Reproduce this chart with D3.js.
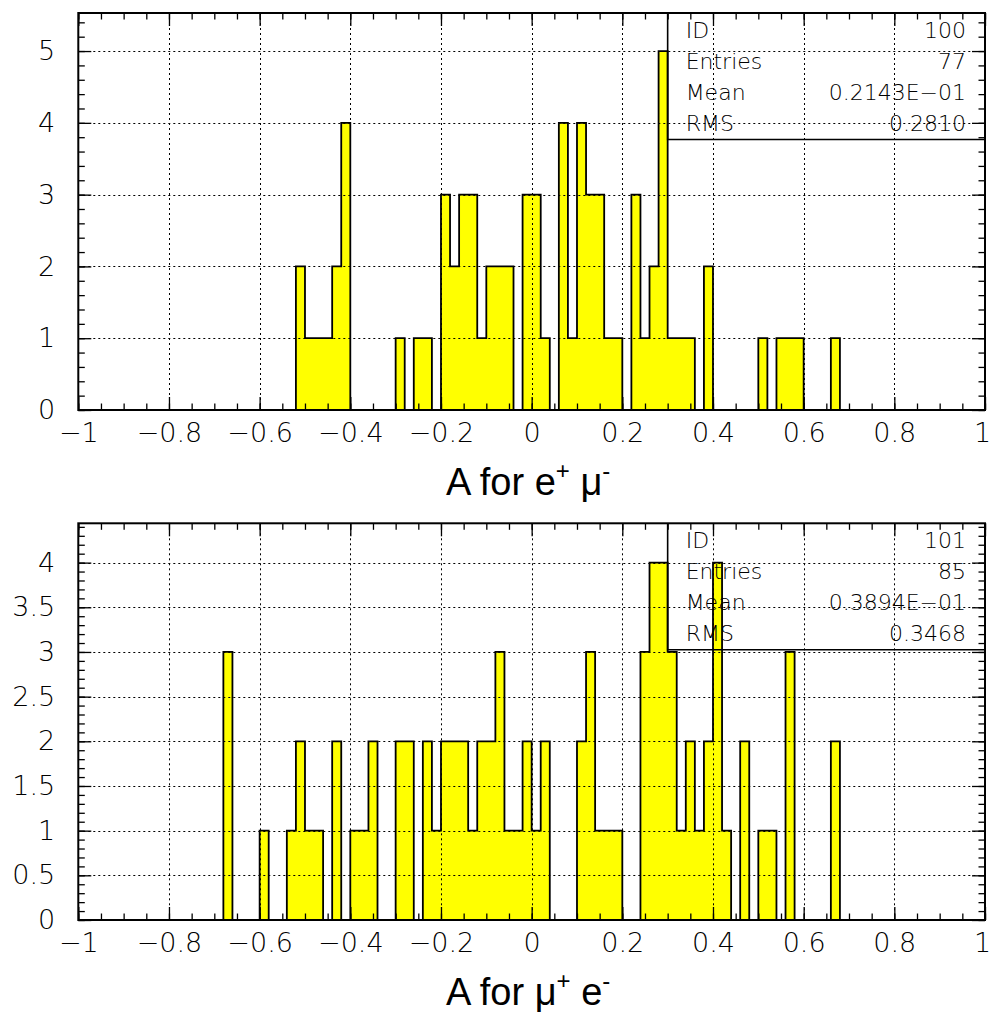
<!DOCTYPE html>
<html>
<head>
<meta charset="utf-8">
<script src="https://cdn.jsdelivr.net/npm/d3@7"></script>
<style>
  html, body { margin: 0; padding: 0; background: #fff; }
  svg { display: block; }
  .tick-label text, .stats text { font-family: "DejaVu Sans", sans-serif; font-weight: 200; fill: #000; }
  .title { font-family: "Liberation Sans", Arial, sans-serif; fill: #000; }
</style>
</head>
<body>
<svg id="chart" width="991" height="1014"></svg>
<script>
// Histogram 100: A for e+ mu-, 100 bins of width 0.02 on [-1, 1]
const countsEMu = [
  0,0,0,0,0,0,0,0,0,0,
  0,0,0,0,0,0,0,0,0,0,
  0,0,0,0,2,1,1,1,2,4,
  0,0,0,0,0,1,0,1,1,0,
  3,2,3,3,1,2,2,2,0,3,
  3,1,0,4,1,4,3,3,1,1,
  0,3,1,2,5,1,1,1,0,2,
  0,0,0,0,0,1,0,1,1,1,
  0,0,0,1,0,0,0,0,0,0,
  0,0,0,0,0,0,0,0,0,0
];
// Histogram 101: A for mu+ e-
const countsMuE = [
  0,0,0,0,0,0,0,0,0,0,
  0,0,0,0,0,0,3,0,0,0,
  1,0,0,1,2,1,1,0,2,0,
  1,1,2,0,0,2,2,0,2,1,
  2,2,2,1,2,2,3,1,1,2,
  1,2,0,0,0,2,3,1,1,1,
  0,0,3,4,4,3,1,2,1,2,
  4,1,0,2,0,1,1,0,3,0,
  0,0,0,2,0,0,0,0,0,0,
  0,0,0,0,0,0,0,0,0,0
];
const xMin = -1, xMax = 1, binWidth = 0.02;

const xMajorTicks = [-1, -0.8, -0.6, -0.4, -0.2, 0, 0.2, 0.4, 0.6, 0.8, 1];
const yMajorTicksTop = [0, 1, 2, 3, 4, 5];
const yMajorTicksBottom = [0, 0.5, 1, 1.5, 2, 2.5, 3, 3.5, 4];

const statLabels = ["ID", "Entries", "Mean", "RMS"];
const statsEMu = ["100", "77", "0.2143E\u221201", "0.2810"];
const statsMuE = ["101", "85", "0.3894E\u221201", "0.3468"];

const svg = d3.select("#chart");
const fmt = v => d3.format("~g")(v);
const crisp = v => Math.round(v) + 0.5;

function drawPanel(cfg) {
  const g = svg.append("g");
  const x = d3.scaleLinear().domain([xMin, xMax]).range([cfg.left, cfg.right]);
  const y = d3.scaleLinear().domain([0, cfg.yMax]).range([cfg.bottom, cfg.top]);

  // bins -> step points (low edge of each bin, plus closing edge)
  const pts = cfg.counts.map((c, i) => ({ x: xMin + i * binWidth, c }));
  pts.push({ x: xMax, c: cfg.counts[cfg.counts.length - 1] });

  const area = d3.area().curve(d3.curveStepAfter)
    .x(d => x(d.x)).y0(y(0)).y1(d => y(d.c));
  const line = d3.line().curve(d3.curveStepAfter)
    .x(d => x(d.x)).y(d => y(d.c));

  g.append("path").attr("d", area(pts)).attr("fill", "#ffff00").attr("stroke", "none");
  g.append("path").attr("d", line(pts)).attr("fill", "none")
    .attr("stroke", "#000").attr("stroke-width", 1.8);

  // dotted grid on the major ticks
  const grid = g.append("g").attr("stroke", "#000").attr("stroke-width", 1)
    .attr("stroke-dasharray", "2,3");
  xMajorTicks.slice(1, -1).forEach(v => {
    grid.append("line").attr("x1", crisp(x(v))).attr("x2", crisp(x(v)))
      .attr("y1", cfg.top).attr("y2", cfg.bottom);
  });
  cfg.yTicks.slice(1).forEach(v => {
    if (y(v) <= cfg.top + 1) return;
    grid.append("line").attr("x1", cfg.left).attr("x2", cfg.right)
      .attr("y1", crisp(y(v))).attr("y2", crisp(y(v)));
  });

  // minor tick values
  const xMinor = d3.range(0, 41).map(i => +(xMin + i * 0.05).toFixed(2));
  const yMinor = d3.range(0, Math.floor(cfg.yMax / cfg.yMinorStep + 1e-6) + 1)
    .map(i => +(i * cfg.yMinorStep).toFixed(2));

  const tickGroup = (axis, tx, ty) => {
    const a = g.append("g").attr("transform", `translate(${tx},${ty})`).call(axis);
    a.select(".domain").remove();
    a.selectAll("line").attr("stroke", "#000").attr("stroke-width", 1.3);
    a.selectAll("text").remove();
    return a;
  };
  // inward ticks on all four sides
  tickGroup(d3.axisBottom(x).tickValues(xMinor).tickSize(-6.5), 0, cfg.bottom);
  tickGroup(d3.axisBottom(x).tickValues(xMajorTicks).tickSize(-13), 0, cfg.bottom);
  tickGroup(d3.axisTop(x).tickValues(xMinor).tickSize(-6.5), 0, cfg.top);
  tickGroup(d3.axisTop(x).tickValues(xMajorTicks).tickSize(-13), 0, cfg.top);
  tickGroup(d3.axisLeft(y).tickValues(yMinor).tickSize(-6.5), cfg.left, 0);
  tickGroup(d3.axisLeft(y).tickValues(cfg.yTicks).tickSize(-13), cfg.left, 0);
  tickGroup(d3.axisRight(y).tickValues(yMinor).tickSize(-6.5), cfg.right, 0);
  tickGroup(d3.axisRight(y).tickValues(cfg.yTicks).tickSize(-13), cfg.right, 0);

  // tick labels
  const xl = g.append("g").attr("class", "tick-label")
    .attr("transform", `translate(0,${cfg.bottom})`)
    .call(d3.axisBottom(x).tickValues(xMajorTicks).tickSize(0).tickPadding(13).tickFormat(fmt));
  xl.select(".domain").remove();
  xl.selectAll("text").attr("font-size", 27).attr("font-family", null)
    .attr("dx", d => d === xMax ? -3 : 0);

  const yl = g.append("g").attr("class", "tick-label")
    .attr("transform", `translate(${cfg.left},0)`)
    .call(d3.axisLeft(y).tickValues(cfg.yTicks).tickSize(0).tickPadding(23).tickFormat(fmt));
  yl.select(".domain").remove();
  yl.selectAll("text").attr("font-size", 27).attr("font-family", null);

  // frame
  g.append("rect").attr("x", cfg.left).attr("y", cfg.top)
    .attr("width", cfg.right - cfg.left).attr("height", cfg.bottom - cfg.top)
    .attr("fill", "none").attr("stroke", "#000").attr("stroke-width", 2);

  // statistics box
  const bx = x(0.30), by = cfg.top + 126.5;
  g.append("path").attr("d", `M${bx},${cfg.top}V${by}H${cfg.right}`)
    .attr("fill", "none").attr("stroke", "#000").attr("stroke-width", 1.6);
  const st = g.append("g").attr("class", "stats");
  statLabels.forEach((lab, i) => {
    const yy = cfg.top + 25 + i * 31;
    st.append("text").attr("x", bx + 18).attr("y", yy).attr("font-size", 22).text(lab);
    st.append("text").attr("x", cfg.right - 19).attr("y", yy).attr("font-size", 22)
      .attr("text-anchor", "end").text(cfg.stats[i]);
  });

  // axis title with superscripts
  const t = g.append("text").attr("class", "title")
    .attr("x", cfg.titleX).attr("y", cfg.bottom + 85).attr("font-size", 38);
  cfg.title.forEach(part => {
    const ts = t.append("tspan").text(part.t);
    if (part.sup) ts.attr("font-size", 24).attr("dy", -16);
    if (part.down) ts.attr("dy", 16);
  });
}

drawPanel({
  counts: countsEMu, stats: statsEMu,
  left: 78.3, right: 985, top: 13, bottom: 410, yMax: 5.53,
  yTicks: yMajorTicksTop, yMinorStep: 0.2, titleX: 446,
  title: [{ t: "A for e" }, { t: "+", sup: true }, { t: " \u03bc", down: true }, { t: "-", sup: true }]
});
drawPanel({
  counts: countsMuE, stats: statsMuE,
  left: 78.3, right: 985, top: 523.3, bottom: 920, yMax: 4.44,
  yTicks: yMajorTicksBottom, yMinorStep: 0.1, titleX: 446,
  title: [{ t: "A for \u03bc" }, { t: "+", sup: true }, { t: " e", down: true }, { t: "-", sup: true }]
});
</script>
</body>
</html>
